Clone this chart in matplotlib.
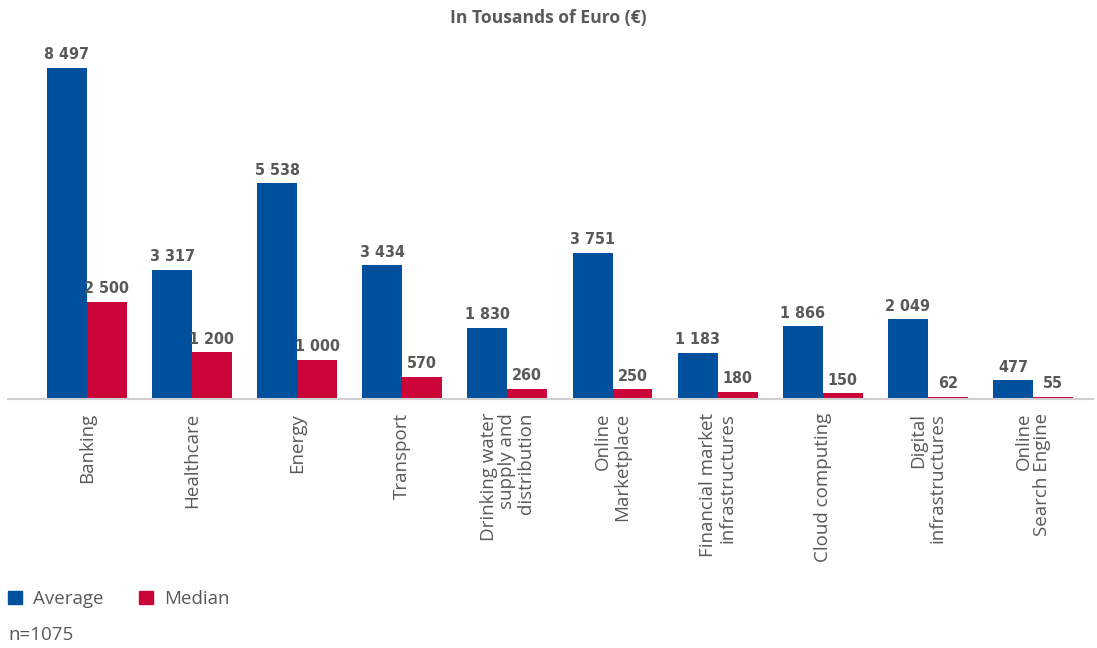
import numpy as np
import matplotlib.pyplot as plt
from matplotlib.patches import Patch

categories = ['Banking', 'Healthcare', 'Energy', 'Transport',
              'Drinking water\nsupply and\ndistribution', 'Online\nMarketplace',
              'Financial market\ninfrastructures', 'Cloud computing',
              'Digital\ninfrastructures', 'Online\nSearch Engine']
average = [8497, 3317, 5538, 3434, 1830, 3751, 1183, 1866, 2049, 477]
median = [2500, 1200, 1000, 570, 260, 250, 180, 150, 62, 55]

blue = '#00509d'
red = '#cc0538'
grey = '#595959'

plt.rcParams['font.family'] = ['Open Sans', 'DejaVu Sans']

fig = plt.figure(figsize=(10.97, 6.48), dpi=100)
ax = fig.add_axes([8 / 1097, 1 - 399 / 648, 1085 / 1097, 331 / 648 * 1.0])

x = np.arange(len(categories))
w = 0.38
b1 = ax.bar(x - w / 2, average, w, color=blue)
b2 = ax.bar(x + w / 2, median, w, color=red)

lab_font = dict(family=['DejaVu Sans'], fontstretch='condensed', fontweight='bold',
                fontsize=11.5, color=grey)
for bars, vals in ((b1, average), (b2, median)):
    for r, v in zip(bars, vals):
        ax.annotate(f'{v:,}'.replace(',', ' '), (r.get_x() + r.get_width() / 2, v),
                    xytext=(0, 4), textcoords='offset points',
                    ha='center', va='bottom', **lab_font)

ax.set_xlim(-0.75, 9.57)
ax.set_ylim(0, 8497)
for s in ['top', 'right', 'left']:
    ax.spines[s].set_visible(False)
ax.spines['bottom'].set_color('#d0d0d0')
ax.spines['bottom'].set_linewidth(1.5)
ax.set_yticks([])
ax.set_xticks(x)
ax.set_xticklabels(categories, rotation=90, ha='center', va='top',
                   fontsize=13.5, color=grey, linespacing=1.05,
                   multialignment='right')
ax.tick_params(axis='x', length=0, pad=10)

fig.text(0.5, 1 - 18 / 648, 'In Tousands of Euro (€)', ha='center', va='center',
         fontsize=12.6, fontweight='bold', color=grey)

handles = [Patch(color=blue, label='Average'), Patch(color=red, label='Median')]
fig.legend(handles=handles, loc='center left', bbox_to_anchor=(0.002, 1 - 599 / 648),
           ncol=2, frameon=False, fontsize=13.5, labelcolor=grey,
           handlelength=0.75, handleheight=0.75, handletextpad=0.6, columnspacing=1.9,
           borderaxespad=0, borderpad=0.3)
fig.text(8 / 1097, 1 - 635 / 648, 'n=1075', ha='left', va='center',
         fontsize=13.5, color=grey)

fig.savefig('out.png', dpi=100)
